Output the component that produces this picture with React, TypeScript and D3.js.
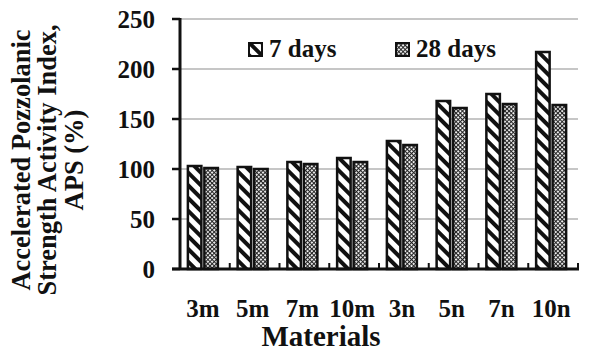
import React from "react";
import * as d3 from "d3";

// Materials on the x axis
const materials = ["3m", "5m", "7m", "10m", "3n", "5n", "7n", "10n"];
// APS (%)
const aps7 = [103, 102, 107, 111, 128, 168, 175, 217];
const aps28 = [101, 100, 105, 107, 124, 161, 165, 164];
const seriesNames = ["7 days", "28 days"];
const yTicks = [0, 50, 100, 150, 200, 250];

const W = 600;
const H = 363;
const left = 180;
const right = 578;
const top = 19;
const bottom = 269;
const font = "Liberation Serif, Times New Roman, serif";

export default function App() {
  const x = d3.scaleBand().domain(materials).range([left, right]).padding(0);
  const y = d3.scaleLinear().domain([0, 250]).range([bottom, top]);
  const barW = 13.5;
  const gap = 3;

  const series = [aps7, aps28];
  const fills = ["url(#stripes)", "url(#checks)"];
  const txt = { fontFamily: font, fontWeight: 700 as const };

  return (
    <svg
      width={W}
      height={H}
      style={{ position: "absolute", left: 0, top: 0 }}
    >
      <defs>
        <pattern
          id="stripes"
          patternUnits="userSpaceOnUse"
          width={9}
          height={9}
          patternTransform="rotate(-45)"
        >
          <rect width={9} height={9} fill="#fff" />
          <rect width={4} height={9} fill="#111" />
        </pattern>
        <pattern
          id="checks"
          patternUnits="userSpaceOnUse"
          width={3}
          height={3}
          patternTransform="rotate(45)"
        >
          <rect width={3} height={3} fill="#fff" />
          <rect width={3} height={1.1} fill="#222" />
          <rect width={1.1} height={3} fill="#222" />
        </pattern>
      </defs>

      {/* gridlines */}
      {yTicks.filter((t) => t > 0).map((t) => (
        <line
          key={t}
          x1={left}
          x2={right}
          y1={y(t)}
          y2={y(t)}
          stroke="#b3b3b3"
          strokeWidth={1.5}
        />
      ))}

      {/* bars */}
      {materials.map((m, i) => {
        const cx = x(m)! + x.bandwidth() / 2 - 2;
        return series.map((s, k) => {
          const x0 = k === 0 ? cx - gap / 2 - barW : cx + gap / 2;
          return (
            <rect
              key={m + k}
              x={x0}
              y={y(s[i])}
              width={barW}
              height={bottom - y(s[i])}
              fill={fills[k]}
              stroke="#111"
              strokeWidth={2.5}
            />
          );
        });
      })}

      {/* y axis */}
      <line x1={left} x2={left} y1={top - 1} y2={bottom} stroke="#111" strokeWidth={3} />
      {yTicks.map((t) => (
        <g key={t}>
          <line x1={left - 8} x2={left} y1={y(t)} y2={y(t)} stroke="#111" strokeWidth={2.5} />
          <text
            x={155}
            y={y(t)}
            dy="0.35em"
            textAnchor="end"
            fontSize={25}
            fill="#111"
            style={txt}
          >
            {t}
          </text>
        </g>
      ))}

      {/* x axis */}
      <line x1={left - 8} x2={right + 1} y1={bottom} y2={bottom} stroke="#111" strokeWidth={3} />
      {materials.map((m) => (
        <line
          key={m}
          x1={x(m)! + x.bandwidth()}
          x2={x(m)! + x.bandwidth()}
          y1={bottom}
          y2={bottom - 6}
          stroke="#111"
          strokeWidth={2}
        />
      ))}
      {materials.map((m) => (
        <text
          key={m}
          x={x(m)! + x.bandwidth() / 2 - 2}
          y={317}
          textAnchor="middle"
          fontSize={25}
          fill="#111"
          style={txt}
        >
          {m}
        </text>
      ))}
      <text x={321} y={346} textAnchor="middle" fontSize={29} fill="#111" style={txt}>
        Materials
      </text>

      {/* y title */}
      <g transform="translate(0,160) rotate(-90)" fill="#111">
        <text x={0} y={30} textAnchor="middle" fontSize={26.5} style={txt}>Accelerated Pozzolanic</text>
        <text x={0} y={56} textAnchor="middle" fontSize={26.5} style={txt}>Strength Activity Index,</text>
        <text x={0} y={83} textAnchor="middle" fontSize={26.5} style={txt}>APS (%)</text>
      </g>

      {/* legend */}
      {seriesNames.map((n, k) => {
        const lx = k === 0 ? 249 : 396;
        return (
          <g key={n}>
            <rect x={lx} y={43} width={13} height={13} fill={fills[k]} stroke="#111" strokeWidth={2} />
            <text x={lx + 20} y={57} fontSize={25} fill="#111" style={txt}>
              {n}
            </text>
          </g>
        );
      })}
    </svg>
  );
}
